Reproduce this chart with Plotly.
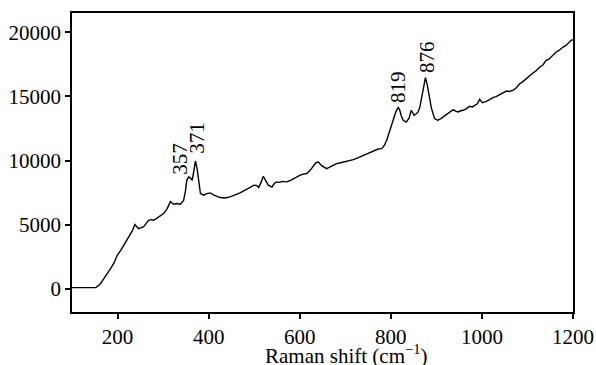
import plotly.graph_objects as go

raman_shift = [100, 120, 140, 152, 158, 163, 170, 177, 185, 192, 199, 207, 214, 220, 225, 232, 238, 242, 246, 252, 257, 263, 268, 274, 279, 286, 293, 301, 309, 316, 320, 323, 330, 338, 345, 349, 352, 356, 360, 364, 368, 371, 375, 378, 382, 389, 396, 404, 412, 425, 436, 447, 458, 469, 480, 491, 500, 506, 510, 515, 520, 526, 531, 539, 545, 550, 556, 562, 572, 582, 592, 601, 608, 615, 622, 630, 636, 641, 648, 659, 670, 681, 692, 705, 718, 730, 740, 747, 755, 765, 772, 780, 786, 791, 798, 805, 811, 816, 819, 823, 827, 834, 840, 845, 848, 851, 856, 860, 864, 868, 872, 876, 880, 885, 889, 896, 903, 909, 915, 920, 926, 931, 937, 942, 948, 953, 959, 966, 973, 979, 984, 990, 995, 1001, 1005, 1010, 1017, 1024, 1031, 1039, 1046, 1054, 1060, 1068, 1075, 1083, 1090, 1097, 1105, 1112, 1119, 1127, 1134, 1141, 1147, 1152, 1158, 1163, 1170, 1178, 1184, 1190, 1196, 1200]
intensity = [100, 100, 100, 110, 250, 440, 800, 1220, 1600, 2000, 2600, 3000, 3400, 3750, 4050, 4500, 5010, 4850, 4700, 4780, 4830, 5100, 5350, 5400, 5350, 5500, 5680, 5870, 6260, 6800, 6700, 6600, 6650, 6600, 6900, 7600, 8460, 8720, 8650, 8460, 9300, 9970, 9300, 8460, 7430, 7300, 7420, 7480, 7300, 7120, 7080, 7170, 7300, 7480, 7700, 7940, 8080, 8050, 7900, 8300, 8780, 8400, 8080, 7940, 8250, 8340, 8300, 8380, 8340, 8500, 8700, 8860, 8940, 8990, 9200, 9630, 9850, 9890, 9600, 9370, 9550, 9760, 9850, 9950, 10070, 10250, 10400, 10540, 10620, 10800, 10900, 10930, 11200, 11580, 12300, 13140, 13800, 14130, 14000, 13500, 13140, 13000, 13300, 13920, 13700, 13530, 13650, 13790, 14200, 14950, 15900, 16460, 15900, 14950, 14100, 13270, 13140, 13250, 13400, 13520, 13660, 13780, 13970, 13850, 13790, 13880, 13920, 14050, 14230, 14180, 14300, 14420, 14770, 14510, 14560, 14610, 14750, 14900, 14980, 15130, 15250, 15420, 15380, 15470, 15650, 15990, 16150, 16380, 16640, 16820, 17000, 17290, 17450, 17810, 17900, 18070, 18220, 18460, 18600, 18850, 18950, 19150, 19370, 19420]

peak_labels = ["357", "371", "819", "876"]
peak_label_x = [338, 375, 817, 878]
peak_label_y = [10170, 11800, 15700, 18100]

x_ticks = [200, 400, 600, 800, 1000, 1200]
x_tick_text = ["200", "400", "600", "800", "1000", "1200"]
y_ticks = [0, 5000, 10000, 15000, 20000]
y_tick_text = ["0", "5000", "10000", "15000", "20000"]
x_title = "Raman shift (cm<sup>−1</sup>)"

font_family = "Liberation Serif"

fig = go.Figure()
fig.add_trace(go.Scatter(x=raman_shift, y=intensity, mode="lines",
                         line=dict(color="black", width=1.4), showlegend=False))

for t, px, py in zip(peak_labels, peak_label_x, peak_label_y):
    fig.add_annotation(x=px, y=py, text=t, textangle=-90, showarrow=False,
                       xanchor="center", yanchor="middle",
                       font=dict(family=font_family, size=21, color="black"))

fig.add_annotation(xref="paper", yref="paper", x=0.548, y=-0.142, text=x_title,
                   showarrow=False, xanchor="center", yanchor="middle",
                   font=dict(family=font_family, size=21, color="black"))

axis_common = dict(showline=True, linecolor="black", linewidth=1.5, mirror=True,
                   ticks="outside", ticklen=5, tickwidth=1.5, tickcolor="black",
                   showgrid=False, zeroline=False, automargin=False,
                   tickfont=dict(family=font_family, size=21, color="black"))

fig.update_xaxes(range=[100, 1200], tickvals=x_ticks, ticktext=x_tick_text,
                 **axis_common)
fig.update_yaxes(range=[-1800, 21500], tickvals=y_ticks, ticktext=y_tick_text,
                 **axis_common)

fig.update_layout(width=596, height=365, margin=dict(l=72, r=23, t=13, b=53),
                  plot_bgcolor="white", paper_bgcolor="white",
                  font=dict(family=font_family, color="black"))

fig.write_html("out.html")
